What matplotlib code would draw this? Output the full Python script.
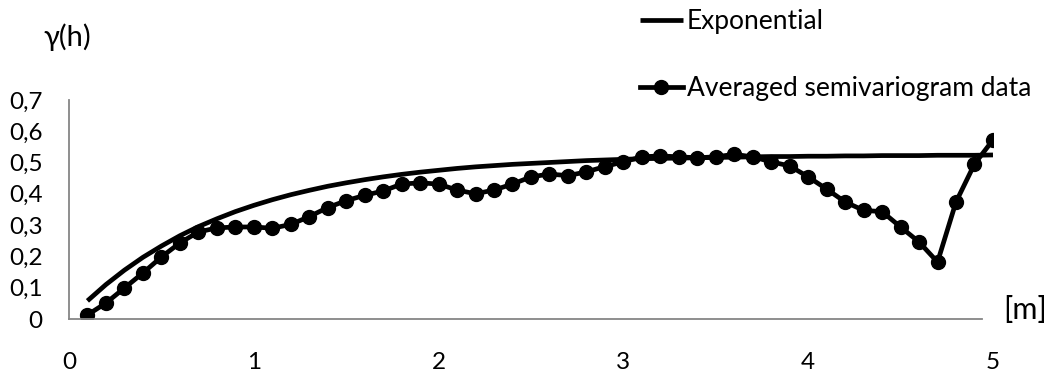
import matplotlib

matplotlib.use("Agg")
import matplotlib.pyplot as plt
from matplotlib.ticker import FuncFormatter

# lag distance h [m]
lag = [0.1, 0.2, 0.3, 0.4, 0.5, 0.6, 0.7, 0.8, 0.9, 1.0,
       1.1, 1.2, 1.3, 1.4, 1.5, 1.6, 1.7, 1.8, 1.9, 2.0,
       2.1, 2.2, 2.3, 2.4, 2.5, 2.6, 2.7, 2.8, 2.9, 3.0,
       3.1, 3.2, 3.3, 3.4, 3.5, 3.6, 3.7, 3.8, 3.9, 4.0,
       4.1, 4.2, 4.3, 4.4, 4.5, 4.6, 4.7, 4.8, 4.9, 5.0]

# averaged semivariogram data
gamma_data = [0.013, 0.051, 0.099, 0.147, 0.198, 0.243, 0.278, 0.291, 0.294, 0.294,
              0.290, 0.302, 0.327, 0.356, 0.378, 0.395, 0.409, 0.431, 0.435, 0.431,
              0.412, 0.400, 0.412, 0.431, 0.454, 0.463, 0.458, 0.470, 0.487, 0.502,
              0.518, 0.521, 0.518, 0.515, 0.518, 0.526, 0.518, 0.502, 0.489, 0.454,
              0.415, 0.374, 0.347, 0.343, 0.294, 0.246, 0.182, 0.374, 0.495, 0.572]

# exponential model fitted to it
gamma_exp = [0.058, 0.110, 0.156, 0.197, 0.233, 0.266, 0.295, 0.320, 0.343, 0.363,
             0.381, 0.397, 0.411, 0.424, 0.435, 0.445, 0.454, 0.462, 0.469, 0.475,
             0.481, 0.486, 0.490, 0.494, 0.497, 0.500, 0.503, 0.506, 0.508, 0.510,
             0.512, 0.513, 0.514, 0.515, 0.516, 0.517, 0.518, 0.519, 0.519, 0.520,
             0.520, 0.521, 0.521, 0.522, 0.522, 0.522, 0.523, 0.523, 0.523, 0.524]

x_ticks = [0, 1, 2, 3, 4, 5]
y_ticks = [0.0, 0.1, 0.2, 0.3, 0.4, 0.5, 0.6, 0.7]

plt.rcParams["font.family"] = ["Lato", "DejaVu Sans"]

fig = plt.figure(figsize=(10.48, 3.74), dpi=100)
ax = fig.add_axes([0.0658, 0.147, 0.8817, 0.586])

ax.plot(lag, gamma_exp, "-", color="black", linewidth=3.4, label="Exponential",
        solid_capstyle="butt")
ax.plot(lag, gamma_data, "-o", color="black", linewidth=3.4, markersize=10,
        label="Averaged semivariogram data")

ax.set_xlim(0, 5)
ax.set_ylim(0, 0.7)
ax.set_xticks(x_ticks)
ax.set_yticks(y_ticks)
ax.yaxis.set_major_formatter(FuncFormatter(lambda v, _: "0" if v == 0 else f"{v:.1f}".replace(".", ",")))
ax.tick_params(axis="both", length=0, labelsize=17.5)
ax.tick_params(axis="y", pad=19)
ax.tick_params(axis="x", pad=24)

for side in ("top", "right"):
    ax.spines[side].set_visible(False)
for side in ("left", "bottom"):
    ax.spines[side].set_color("#868686")
    ax.spines[side].set_linewidth(1.3)
ax.spines["bottom"].set_bounds(0, 4.94)

fig.text(0.064, 0.9, "γ(h)", fontsize=21, ha="center", va="center")
fig.text(0.978, 0.171, "[m]", fontsize=22, ha="center", va="center")

fig.legend(loc="upper left", bbox_to_anchor=(0.611, 0.976), frameon=False,
           fontsize=19, handlelength=1.6, handletextpad=0.15, labelspacing=1.6,
           borderpad=0, borderaxespad=0)

fig.savefig("out.png", dpi=100)
